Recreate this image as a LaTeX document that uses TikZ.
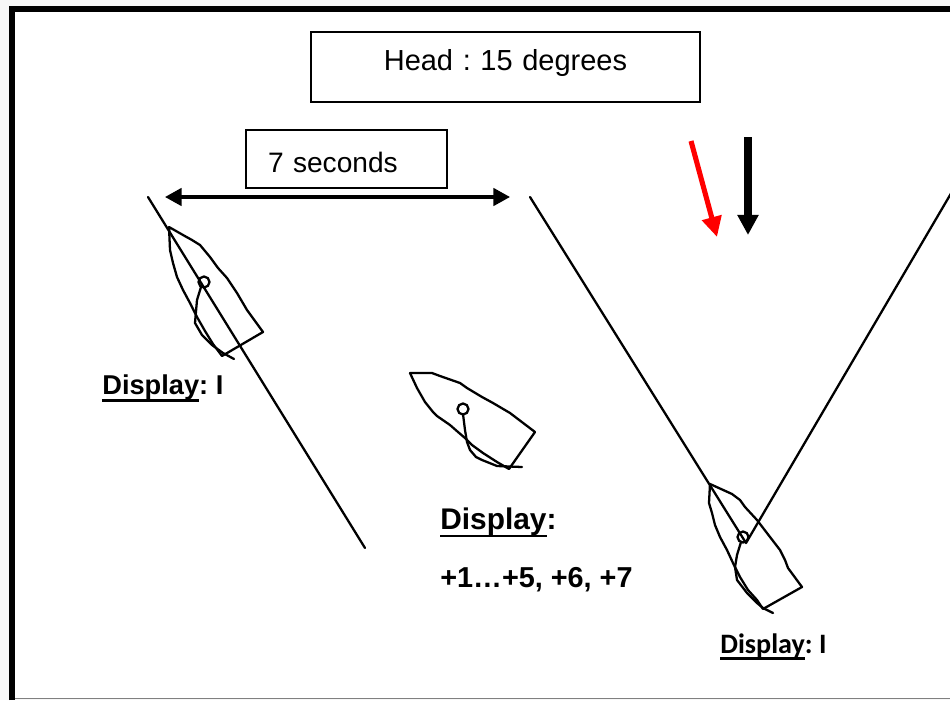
\documentclass[tikz,border=0pt]{standalone}
\usepackage{fontspec}
\setmainfont{Liberation Sans}
\newfontfamily\calibri{Carlito}
\usetikzlibrary{arrows.meta}
\frenchspacing
\newcommand\ulword[1]{\setbox0=\hbox{#1}\rlap{\rule[\dimexpr-\dp0-1.3pt\relax]{\wd0}{1.7pt}}\box0}

\begin{document}
\begin{tikzpicture}[x=0.02cm,y=-0.02cm,
    thinline/.style={line width=1.3pt,line cap=round,line join=round},
    labelbox/.style={draw,line width=1.2pt,inner ysep=0pt},
    caption/.style={inner sep=0pt,anchor=base west,font=\bfseries}]
            \useasboundingbox (0,0) rectangle (950,700);
            \clip (0,0) rectangle (950,700);
            \fill[black!3] (0,0) rectangle (950,700);
            \fill[white] (12,9) rectangle (960,698);
            \draw[line width=3.4pt] (12.3,700) -- (12.3,8.7) -- (960,8.7);
            \draw[gray,line width=1.1pt] (15,698.5) -- (960,698.5);

            \node[labelbox,text width=7.78cm,align=center,inner xsep=0pt,text height=0.774cm,text depth=0.626cm,anchor=base,font=\fontsize{16.5}{20}\selectfont] (head) at (505.5,70.7) {Head : 15 degrees};
            \node[labelbox,text width=3.14cm,align=left,inner xsep=0.44cm,text height=0.84cm,text depth=0.32cm,anchor=base west,font=\fontsize{16}{19}\selectfont] (secs) at (245,172) {7 seconds};

            \coordinate (secsl) at (165,197);
            \coordinate (secsr) at (510,197);
            \draw[line width=1.8pt,{Triangle[length=9.5pt,width=10pt]}-{Triangle[length=9.5pt,width=10pt]}] (secsl) -- (secsr);

            \coordinate (redtail) at (691,141);
            \coordinate (redtip) at (717,237);
            \coordinate (blacktail) at (748,137);
            \coordinate (blacktip) at (748,235);
            \draw[red,line width=2.9pt,-{Triangle[length=11.5pt,width=11pt]}] (redtail) -- (redtip);
            \draw[line width=4pt,-{Triangle[length=11.5pt,width=11.5pt]}] (blacktail) -- (blacktip);

            \coordinate (lineAtop) at (148,197);
            \coordinate (lineAbot) at (365,548);
            \coordinate (lineBtop) at (530,197);
            \coordinate (lineCtop) at (953,190);
            \coordinate (vtx) at (746,543);
            \draw[thinline] (lineAtop) -- (lineAbot);
            \draw[thinline] (lineBtop) -- (vtx) -- (lineCtop);

            \draw[thinline] (169,227) -- (183,235) -- (192,240) -- (200,245) -- (210,257) -- (218,268) -- (227,278) -- (237,293) -- (247,310) -- (263,332) -- (222,356) -- (213,344) -- (205,331) -- (197,317) -- (190,303) -- (183,290) -- (177,277) -- (173,263) -- (170,250) -- cycle;
            \draw[thinline] (204,282) circle[radius=5.5];
            \draw[thinline] (201,287) -- (197,300) -- (195,323) -- (202,335) -- (212,345) -- (223,353) -- (234,359);

            \draw[thinline] (410,373) -- (432,373) -- (440,376) -- (460,383) -- (467,388) -- (482,397) -- (493,403) -- (510,413) -- (535,432) -- (509,469) -- (497,462) -- (483,453) -- (472,445) -- (465,438) -- (458,432) -- (450,425) -- (437,416) -- (433,412) -- (425,402) -- (417,388) -- cycle;
            \draw[thinline] (463,409) circle[radius=5.5];
            \draw[thinline] (463,414) -- (465,430) -- (467,442) -- (470,450) -- (476,457) -- (482,460) -- (497,466) -- (522,467);

            \draw[thinline] (710,484) -- (732,494) -- (740,500) -- (745,507) -- (757,520) -- (770,537) -- (780,550) -- (785,560) -- (788,568) -- (802,587) -- (763,609) -- (757,600) -- (748,590) -- (740,577) -- (733,563) -- (727,550) -- (720,537) -- (715,525) -- (712,513) -- (709,503) -- cycle;
            \draw[thinline] (743,537) circle[radius=5.5];
            \draw[thinline] (741,542) -- (737,555) -- (735,567) -- (737,580) -- (747,593) -- (757,603) -- (763,608) -- (773,613);

            \node[caption,font=\bfseries\fontsize{15.5}{18}\selectfont] (displeft) at (102,394) {\ulword{Display}: I};
            \node[caption,font=\bfseries\fontsize{17}{20}\selectfont] (dispmid) at (440,529) {\ulword{Display}:};
            \node[caption,font=\bfseries\fontsize{16.4}{20}\selectfont] (dispnums) at (440,587) {+1…+5, +6, +7};
            \node[caption,font=\calibri\bfseries\fontsize{16}{19}\selectfont] (dispright) at (720,653) {\ulword{Display}: I};
        \end{tikzpicture}
\end{document}
